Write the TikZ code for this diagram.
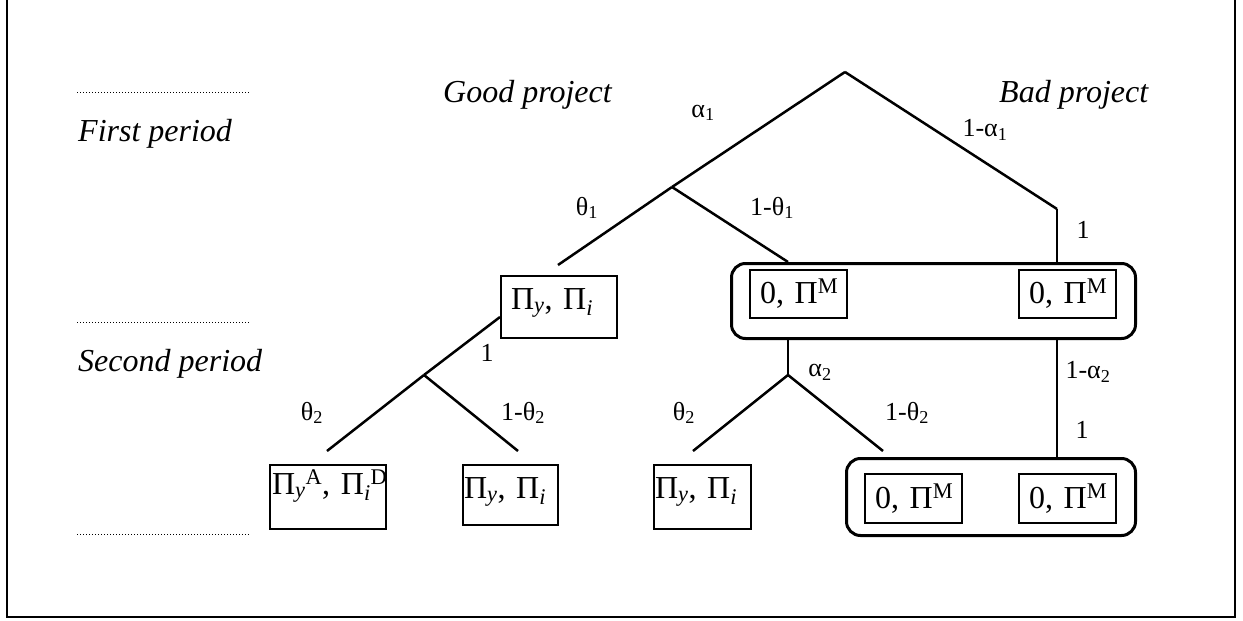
\documentclass[tikz,border=0pt]{standalone}
\usepackage{fontspec}
\setmainfont{Liberation Serif}
\usetikzlibrary{positioning}

\begin{document}
\begin{tikzpicture}[
    x=1pt, y=-1pt,
    branch/.style={line width=2.5pt},
    payoff/.style={draw, line width=2pt, inner ysep=0pt, align=left, anchor=north west, font=\fontsize{32}{36}\selectfont},
    group/.style={draw, line width=3pt, rounded corners=14pt, anchor=north west, inner sep=0pt},
    prob/.style={font=\fontsize{26}{30}\selectfont, inner sep=0pt},
    period/.style={font=\fontsize{32}{38}\selectfont\itshape, inner sep=0pt, anchor=base west},
    divider/.style={dotted, line width=1pt}
]
    \useasboundingbox (0,0) rectangle (1243,621);
    \draw[line width=2.5pt] (7,0) -- (7,617) -- (1235,617) -- (1235,0);

    % period markers
    \draw[divider] (77,92) -- (249,92);
    \draw[divider] (77,322) -- (249,322);
    \draw[divider] (77,534) -- (249,534);
    \node[period] (first) at (78,141) {First period};
    \node[period] (second) at (78,371) {Second period};
    \node[period] (good) at (443,102) {Good project};
    \node[period] (bad) at (999,102) {Bad project};

    % outcome groups
    \node[group, minimum width=404pt, minimum height=75pt] (grp1) at (730,262) {};
    \node[group, minimum width=289pt, minimum height=77pt] (grp2) at (845,457) {};

    % payoffs
    \node[payoff, text width=96pt, inner xsep=10pt, text height=33pt, text depth=29pt] (good1) at (500,275) {\mbox{Π\textsubscript{\textit{y}}, Π\textsubscript{\textit{i}}}};
    \node[payoff, text width=77pt, inner xsep=10pt, text height=33pt, text depth=15pt] (mon1) at (749,269) {\mbox{0, Π\textsuperscript{M}}};
    \node[payoff, text width=77pt, inner xsep=10pt, text height=33pt, text depth=15pt] (mon2) at (1018,269) {\mbox{0, Π\textsuperscript{M}}};
    \node[payoff, text width=112pt, inner xsep=2pt, text height=29pt, text depth=35pt] (good2) at (269,464) {\mbox{Π\textsubscript{\textit{y}}\textsuperscript{A}, Π\textsubscript{\textit{i}}\textsuperscript{D}}};
    \node[payoff, text width=93pt, inner xsep=1pt, text height=33pt, text depth=27pt] (good3) at (462,464) {\mbox{Π\textsubscript{\textit{y}}, Π\textsubscript{\textit{i}}}};
    \node[payoff, text width=95pt, inner xsep=1pt, text height=33pt, text depth=31pt] (good4) at (653,464) {\mbox{Π\textsubscript{\textit{y}}, Π\textsubscript{\textit{i}}}};
    \node[payoff, text width=77pt, inner xsep=10pt, text height=34pt, text depth=15pt] (mon3) at (864,473) {\mbox{0, Π\textsuperscript{M}}};
    \node[payoff, text width=77pt, inner xsep=10pt, text height=34pt, text depth=15pt] (mon4) at (1018,473) {\mbox{0, Π\textsuperscript{M}}};

    % tree points
    \coordinate (root) at (845,72);
    \coordinate (j1) at (672,187);
    \coordinate (t1) at (558,265);
    \coordinate (b1) at (1057,209);
    \coordinate (j2) at (788,375);
    \coordinate (j3) at (424,375);
    \coordinate (l1) at (327,451);
    \coordinate (l2) at (518,451);
    \coordinate (l3) at (693,451);
    \coordinate (l4) at (883,451);

    \draw[branch] (root) -- (j1);
    \draw[branch] (root) -- (b1);
    \draw[branch] (j1) -- (t1);
    \draw[branch] (j1) -- (grp1.north -| j2);
    \draw[branch] (b1) -- (b1 |- grp1.north);
    \draw[branch] (grp1.south -| j2) -- (j2);
    \draw[branch] (j2) -- (l3);
    \draw[branch] (j2) -- (l4);
    \draw[branch] (grp1.south -| b1) -- (grp2.north -| b1);
    \draw[branch] (good1.west |- 0,317) -- (j3);
    \draw[branch] (j3) -- (l1);
    \draw[branch] (j3) -- (l2);

    % probabilities
    \node[prob] (pa1) at (703,113) {α\textsubscript{1}};
    \node[prob] (pb1) at (985,130) {1-α\textsubscript{1}};
    \node[prob] (pt1) at (587,208) {θ\textsubscript{1}};
    \node[prob] (pu1) at (772,208) {1-θ\textsubscript{1}};
    \node[prob] (pone1) at (1083,230) {1};
    \node[prob] (pone2) at (487,353) {1};
    \node[prob] (pa2) at (820,372) {α\textsubscript{2}};
    \node[prob] (pb2) at (1088,372) {1-α\textsubscript{2}};
    \node[prob] (pone3) at (1082,430) {1};
    \node[prob] (pt2) at (312,413) {θ\textsubscript{2}};
    \node[prob] (pu2) at (523,413) {1-θ\textsubscript{2}};
    \node[prob] (pt3) at (684,413) {θ\textsubscript{2}};
    \node[prob] (pu3) at (907,413) {1-θ\textsubscript{2}};
\end{tikzpicture}
\end{document}
